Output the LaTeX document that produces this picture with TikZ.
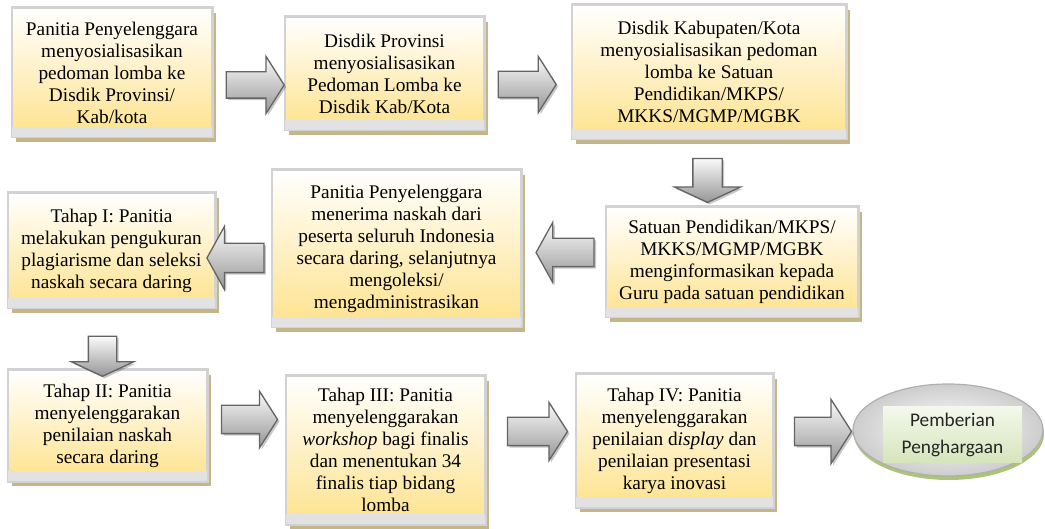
\documentclass[tikz,border=0pt]{standalone}
\usepackage{fontspec}
\setmainfont{Liberation Serif}
\newfontfamily\timesfont{Liberation Serif}
\newfontfamily\calibri{Carlito}
\usetikzlibrary{shapes.arrows,shapes.geometric,shadows,calc}
\definecolor{boxgold}{RGB}{254,226,140}
\definecolor{boxmid}{RGB}{255,244,212}
\definecolor{boxline}{RGB}{210,210,210}
\definecolor{boxband}{RGB}{226,226,226}
\definecolor{boxshadow}{RGB}{196,182,136}
\definecolor{arrowline}{RGB}{100,100,100}
\definecolor{arrowtop}{RGB}{250,250,250}
\definecolor{arrowbot}{RGB}{150,150,150}
\definecolor{ellline}{RGB}{175,175,175}
\definecolor{ellshadow}{RGB}{170,196,120}
\definecolor{greentop}{RGB}{243,248,236}
\definecolor{greenbot}{RGB}{214,229,188}
\definecolor{elltext}{RGB}{38,38,38}
\begin{document}
\begin{tikzpicture}[x=1pt,y=-1pt,
  stagebox/.style={draw=boxline, line width=1.5pt, top color=white, middle color=boxmid,
    bottom color=boxgold, inner sep=0pt, align=center,
    font=\timesfont\fontsize{19.3}{22}\selectfont,
    general shadow={shadow xshift=4pt, shadow yshift=-5pt, fill=boxshadow}},
  blockarrow/.style={single arrow, draw=arrowline, line width=1.3pt, top color=arrowtop,
    bottom color=arrowbot, inner xsep=0pt, inner ysep=13pt, single arrow tip angle=115,
    general shadow={shadow xshift=2pt, shadow yshift=-2pt, fill=black, opacity=0.22}},
  downarrow/.style={blockarrow, shape border rotate=270, single arrow tip angle=130, inner ysep=0pt},
  leftarrow/.style={blockarrow, shape border rotate=180, single arrow tip angle=122},
  bandfill/.style={fill=boxband},
  boxedge/.style={draw=boxline, line width=1.5pt}
]
\useasboundingbox (0,0) rectangle (1045,529);

% boxes
\node[stagebox, minimum width=200pt, minimum height=129pt] (b1) at (112,72.5)
  {Panitia Penyelenggara\\menyosialisasikan\\pedoman lomba ke\\Disdik Provinsi/\\Kab/kota};
\node[stagebox, minimum width=199pt, minimum height=113pt] (b2) at (384.5,73.5)
  {Disdik Provinsi\\menyosialisasikan\\Pedoman Lomba ke\\Disdik Kab/Kota};
\node[stagebox, minimum width=274pt, minimum height=134pt] (b3) at (709,72)
  {Disdik Kabupaten/Kota\\menyosialisasikan pedoman\\lomba ke Satuan\\Pendidikan/MKPS/\\MKKS/MGMP/MGBK};
\node[stagebox, minimum width=252pt, minimum height=110pt] (b4) at (732,262)
  {Satuan Pendidikan/MKPS/\\MKKS/MGMP/MGBK\\menginformasikan kepada\\Guru pada satuan pendidikan};
\node[stagebox, minimum width=249pt, minimum height=157pt] (b5) at (396.5,248.5)
  {Panitia Penyelenggara\\menerima naskah dari\\peserta seluruh Indonesia\\secara daring, selanjutnya\\mengoleksi/\\mengadministrasikan};
\node[stagebox, minimum width=207pt, minimum height=115pt] (b6) at (111.5,250.5)
  {Tahap I: Panitia\\melakukan pengukuran\\plagiarisme dan seleksi\\naskah secara daring};
\node[stagebox, minimum width=199pt, minimum height=111pt] (b7) at (107.5,425.5)
  {Tahap II: Panitia\\menyelenggarakan\\penilaian naskah\\secara daring};
\node[stagebox, minimum width=199pt, minimum height=148pt] (b8) at (385.5,450)
  {Tahap III: Panitia\\menyelenggarakan\\\textit{workshop} bagi finalis\\dan menentukan 34\\finalis tiap bidang\\lomba};
\node[stagebox, minimum width=197pt, minimum height=133pt] (b9) at (674.5,440.5)
  {Tahap IV: Panitia\\menyelenggarakan\\penilaian d\textit{isplay} dan\\penilaian presentasi\\karya inovasi};

% grey bands at the bottom of the boxes
\foreach \n in {b1,b2,b3,b4,b5,b6,b7,b8,b9}{
  \fill[bandfill] ($(\n.south west)+(0.75,-11)$) rectangle ($(\n.south east)+(-0.75,-0.75)$);
  \draw[boxedge] (\n.south west) rectangle (\n.north east);
}

% ellipse
\node[ellipse, draw=ellline, line width=1.2pt, minimum width=190pt, minimum height=92pt,
  inner color=white, outer color={rgb,255:red,205;green,205;blue,205},
  general shadow={shadow xshift=1pt, shadow yshift=-4pt, fill=ellshadow}] (e) at (948,430) {};
\node[top color=greentop, bottom color=greenbot, minimum width=139pt, minimum height=55pt,
  inner sep=0pt, align=center, text=elltext, font=\calibri\fontsize{19.3}{27}\selectfont] (et) at (952.5,434.5)
  {Pemberian\\Penghargaan};

% block arrows
\node[blockarrow, minimum height=58pt, minimum width=56pt, inner ysep=12.5pt, single arrow head extend=15.5pt] (a12) at (251,85) {};
\node[blockarrow, minimum height=58pt, minimum width=55pt, inner ysep=12.5pt, single arrow head extend=15pt] (a23) at (523,84.5) {};
\node[downarrow, minimum height=44pt, minimum width=65pt, inner xsep=14pt, single arrow head extend=18.5pt] (a34) at (707.5,177) {};
\node[leftarrow, minimum height=58pt, minimum width=59pt, inner ysep=13.5pt, single arrow head extend=16pt] (a45) at (569,252.5) {};
\node[leftarrow, minimum height=57pt, minimum width=62pt, inner ysep=14pt, single arrow head extend=17pt] (a56) at (239.5,258) {};
\node[downarrow, minimum height=40pt, minimum width=61pt, inner xsep=13.5pt, single arrow head extend=17pt] (a67) at (102.5,353) {};
\node[blockarrow, minimum height=56pt, minimum width=55pt, inner ysep=13.5pt, single arrow head extend=14pt] (a78) at (245,419.5) {};
\node[blockarrow, minimum height=60pt, minimum width=57pt, inner ysep=13.5pt, single arrow head extend=15pt] (a89) at (533,431.5) {};
\node[blockarrow, minimum height=57pt, minimum width=63pt, inner ysep=13.5pt, single arrow head extend=18pt] (a9e) at (818.5,431.5) {};
\end{tikzpicture}
\end{document}
